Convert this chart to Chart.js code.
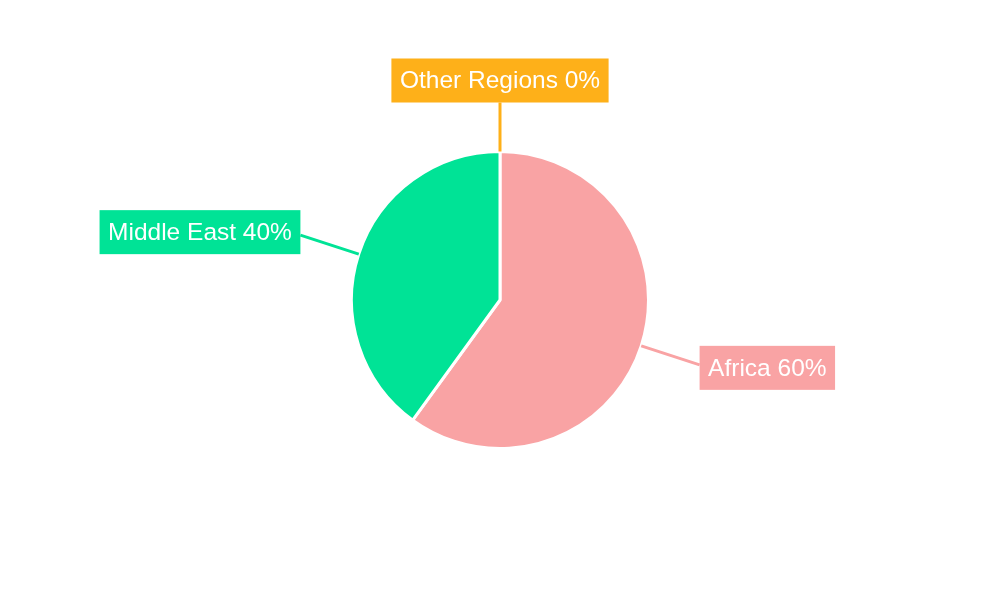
<!DOCTYPE html>
<html>
<head>
<meta charset="utf-8">
<script src="https://cdn.jsdelivr.net/npm/chart.js@4/dist/chart.umd.min.js"></script>
<style>
html,body{margin:0;padding:0;background:#fff;}
#wrap{width:1000px;height:600px;position:relative;}
</style>
</head>
<body>
<div id="wrap"><canvas id="c" width="1000" height="600"></canvas></div>
<script>
const categories = ["Africa", "Middle East", "Other Regions"];
const shares = [60, 40, 0];
const colors = ["#F9A3A4", "#00E396", "#FEB019"];

const labelPlugin = {
  id: 'calloutLabels',
  afterDatasetsDraw(chart) {
    const ctx = chart.ctx;
    const meta = chart.getDatasetMeta(0);
    ctx.save();
    ctx.font = '24.5px "Liberation Sans", Arial, sans-serif';
    meta.data.forEach((arc, i) => {
      const p = arc.getProps(['x','y','startAngle','endAngle','outerRadius'], true);
      const mid = (p.startAngle + p.endAngle) / 2;
      const c = Math.cos(mid), s = Math.sin(mid);
      const L = 49 + 13 * Math.abs(c);
      const x0 = p.x + p.outerRadius * c, y0 = p.y + p.outerRadius * s;
      const x1 = p.x + (p.outerRadius + L) * c, y1 = p.y + (p.outerRadius + L) * s;
      ctx.strokeStyle = colors[i];
      ctx.lineWidth = 3;
      ctx.beginPath();
      ctx.moveTo(x0, y0);
      ctx.lineTo(x1, y1);
      ctx.stroke();
      const text = categories[i] + ' ' + shares[i] + '%';
      const tw = ctx.measureText(text).width;
      const bw = tw + 17, bh = 44;
      let bx, by;
      if (c > 0.3) { bx = x1; by = y1 - bh / 2 + 3; }
      else if (c < -0.3) { bx = x1 - bw; by = y1 - bh / 2 - 3; }
      else { bx = x1 - bw / 2; by = y1 - bh; }
      ctx.fillStyle = colors[i];
      ctx.fillRect(bx, by, bw, bh);
      ctx.fillStyle = '#fff';
      ctx.textBaseline = 'middle';
      ctx.textAlign = 'center';
      ctx.fillText(text, bx + bw / 2, by + bh / 2 + 1);
    });
    ctx.restore();
  }
};

new Chart(document.getElementById('c'), {
  type: 'pie',
  data: {
    labels: categories,
    datasets: [{
      data: shares,
      backgroundColor: colors,
      borderColor: '#ffffff',
      borderWidth: 3,
      hoverOffset: 0
    }]
  },
  options: {
    responsive: false,
    animation: false,
    layout: { padding: { top: 150, bottom: 150, left: 100, right: 100 } },
    plugins: { legend: { display: false }, tooltip: { enabled: false } }
  },
  plugins: [labelPlugin]
});
</script>
</body>
</html>
